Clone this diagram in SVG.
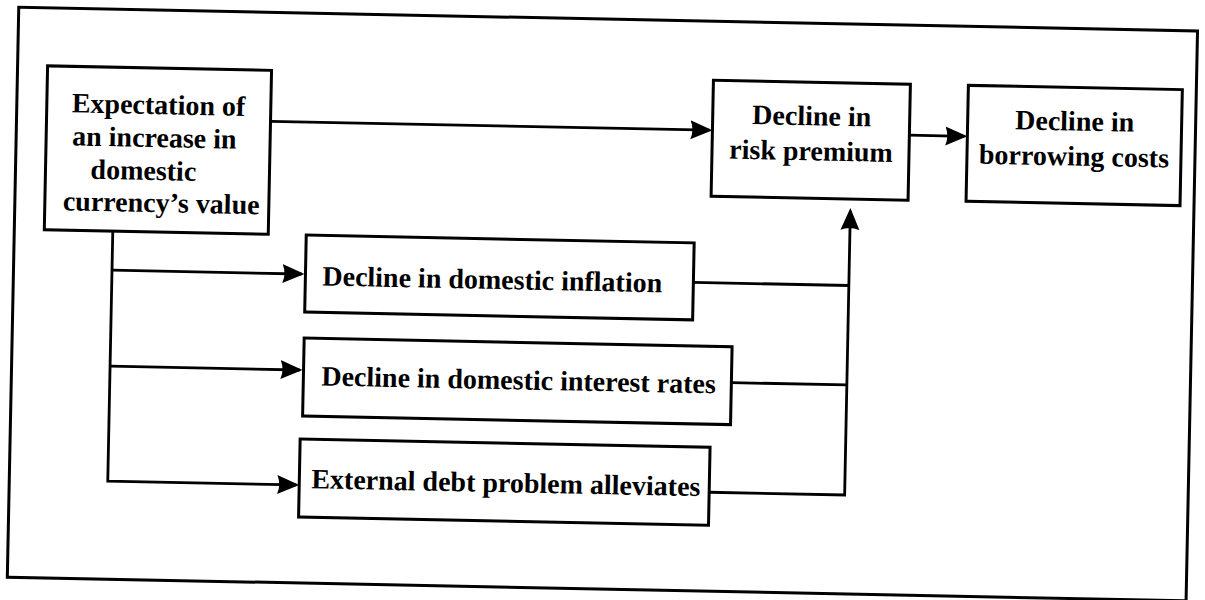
<svg xmlns="http://www.w3.org/2000/svg" width="1205" height="600" viewBox="0 0 1205 600">
<defs>
<style>
.box{fill:#fff;stroke:#000;stroke-width:3}
.frame{fill:none;stroke:#000;stroke-width:3}
.lbl{font-family:"Liberation Serif","Times New Roman",serif;font-weight:bold;font-size:28px;fill:#000}
.mid{text-anchor:middle}
.edge{fill:none;stroke:#000;stroke-width:2.8}
</style>
<marker id="ah" markerUnits="userSpaceOnUse" markerWidth="23" markerHeight="20" refX="19" refY="10" orient="auto">
<path d="M0,0.5 L22,10 L0,19.5 Q4,10 0,0.5 z" fill="#000"/>
</marker>
</defs>
<rect width="1205" height="600" fill="#fff"/>
<g transform="rotate(1.15 600 300)">
<rect id="frame" class="frame" x="13" y="19" width="1179" height="570"/>
<g id="connectors">
<path class="edge" d="M267,128 H706" marker-end="url(#ah)"/>
<path class="edge" d="M906,129 H961" marker-end="url(#ah)"/>
<path class="edge" d="M111.5,241 V491 H300" marker-end="url(#ah)"/>
<path class="edge" d="M111.5,280 H301" marker-end="url(#ah)"/>
<path class="edge" d="M111.5,376 H301" marker-end="url(#ah)"/>
<path class="edge" d="M713,490 H848.5 V206" marker-end="url(#ah)"/>
<path class="edge" d="M693,280.5 H848.5"/>
<path class="edge" d="M733,380 H848.5"/>
</g>
<g id="n-expectation">
<rect class="box" x="43" y="77" width="224" height="164"/>
<text class="lbl" x="68" y="123">Expectation of</text>
<text class="lbl" x="69" y="156">an increase in</text>
<text class="lbl" x="88" y="189">domestic</text>
<text class="lbl" x="61" y="221">currency’s value</text>
</g>
<g id="n-risk">
<rect class="box" x="709" y="78" width="197" height="116"/>
<text class="lbl mid" x="808" y="121">Decline in</text>
<text class="lbl mid" x="808" y="156">risk premium</text>
</g>
<g id="n-borrowing">
<rect class="box" x="964" y="78" width="214" height="116"/>
<text class="lbl mid" x="1071" y="121">Decline in</text>
<text class="lbl mid" x="1071" y="156">borrowing costs</text>
</g>
<g id="n-inflation">
<rect class="box" x="305" y="241" width="388" height="77"/>
<text class="lbl" x="322" y="291">Decline in domestic inflation</text>
</g>
<g id="n-interest">
<rect class="box" x="305" y="344" width="428" height="78"/>
<text class="lbl" x="323" y="391">Decline in domestic interest rates</text>
</g>
<g id="n-external">
<rect class="box" x="303" y="445" width="410" height="78"/>
<text class="lbl" x="315" y="494">External debt problem alleviates</text>
</g>
</g>
</svg>
